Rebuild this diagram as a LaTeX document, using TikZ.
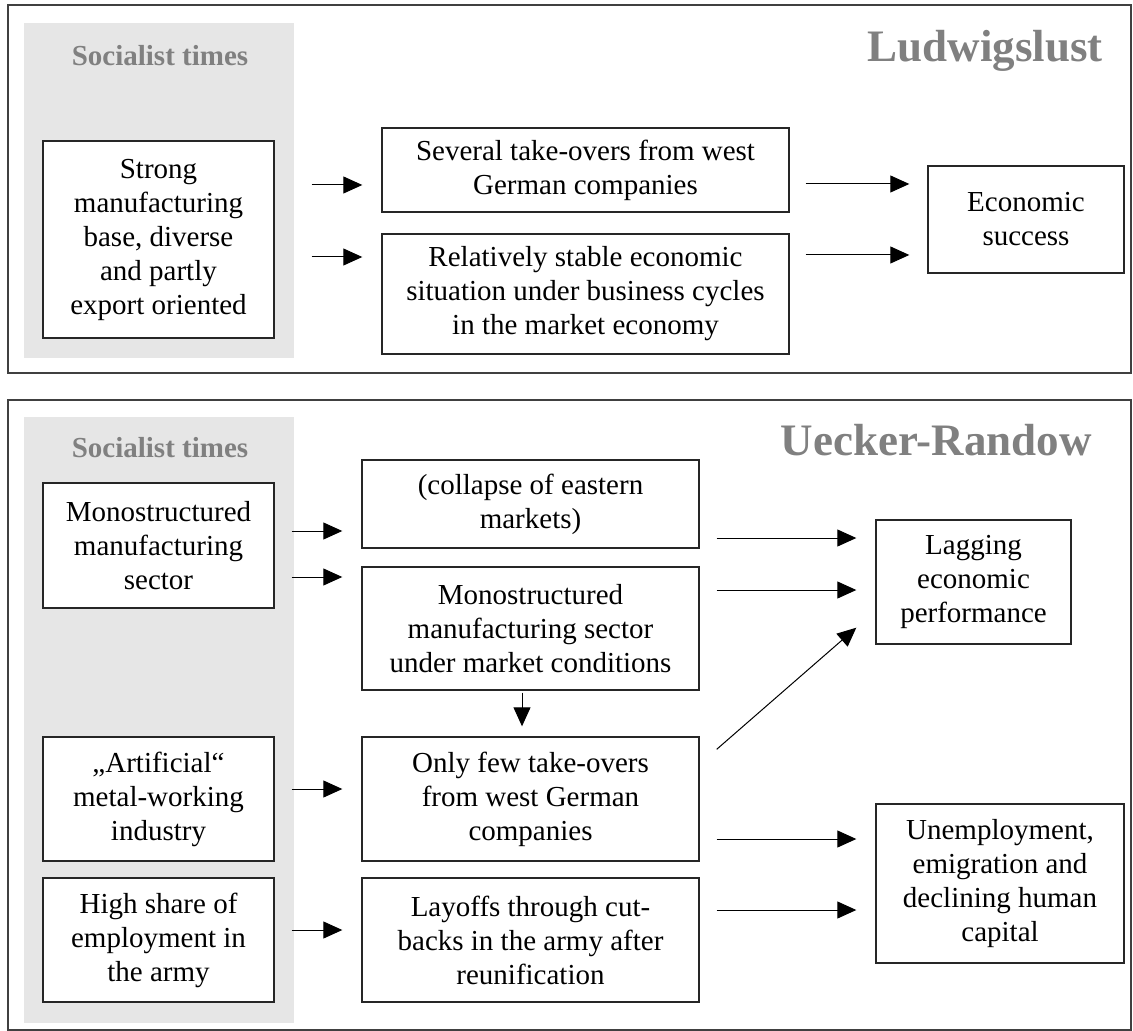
\documentclass[tikz,border=0pt]{standalone}
\usepackage{fontspec}
\setmainfont{Liberation Serif}
\usetikzlibrary{arrows.meta,calc}
\definecolor{panelgray}{HTML}{E6E6E6}
\definecolor{titlegray}{HTML}{808080}
\definecolor{framecol}{HTML}{404040}
\begin{document}
\begin{tikzpicture}[x=0.5pt,y=-0.5pt,
  box/.style={draw=black!85, line width=0.7pt, fill=white, align=center, inner sep=0pt,
              font=\fontsize{14.5pt}{17pt}\selectfont},
  arr/.style={-{Triangle[length=9.5pt,width=8.5pt]}, line width=0.5pt},
  title/.style={font=\fontsize{22.5pt}{27pt}\selectfont\bfseries, text=titlegray, inner sep=0pt},
  era/.style={font=\fontsize{14.5pt}{17pt}\selectfont\bfseries, text=titlegray, inner sep=0pt},
  framebox/.style={draw=framecol, line width=0.8pt},
  panel/.style={fill=panelgray}]

\useasboundingbox (0,0) rectangle (1133,1031);

% ---------------- Ludwigslust ----------------
\draw[framebox] (8,5) rectangle (1131,373);
\fill[panel] (24,23) rectangle (294,358);
\node[era, anchor=base] (era1) at (160,66) {Socialist times};
\node[title, anchor=base east] (t1) at (1103,62) {Ludwigslust};

\node[box, minimum width=115.5pt, minimum height=98.5pt] (strong) at (158.5,239.5)
  {Strong\\manufacturing\\base, diverse\\and partly\\export oriented};
\node[box, minimum width=203.5pt, minimum height=42pt] (several) at (585.5,170)
  {Several take-overs from west\\German companies};
\node[box, minimum width=203.5pt, minimum height=60pt] (relat) at (585.5,294)
  {Relatively stable economic\\situation under business cycles\\in the market economy};
\node[box, minimum width=98pt, minimum height=53.5pt] (econ) at (1026,219.5)
  {Economic\\success};

\coordinate (ya) at (0,185);
\coordinate (yb) at (0,257);
\coordinate (yc) at (0,184);
\coordinate (yd) at (0,255);
\draw[arr, shorten <=18.5pt, shorten >=9.5pt] (strong.east |- ya) -- (several.west |- ya);
\draw[arr, shorten <=18.5pt, shorten >=9.5pt] (strong.east |- yb) -- (relat.west |- yb);
\draw[arr, shorten <=8pt, shorten >=9pt] (several.east |- yc) -- (econ.west |- yc);
\draw[arr, shorten <=8pt, shorten >=9pt] (relat.east |- yd) -- (econ.west |- yd);

% ---------------- Uecker-Randow ----------------
\draw[framebox] (8,400) rectangle (1131,1030);
\fill[panel] (24,417) rectangle (294,1023);
\node[era, anchor=base] (era2) at (160,458) {Socialist times};
\node[title, anchor=base east] (t2) at (1092,455) {Uecker-Randow};

\node[box, minimum width=115.5pt, minimum height=62.5pt] (monoL) at (158.5,545.5)
  {Monostructured\\manufacturing\\sector};
\node[box, minimum width=115.5pt, minimum height=62pt] (artif) at (158.5,799)
  {„Artificial“\\metal-working\\industry};
\node[box, minimum width=115.5pt, minimum height=62pt] (high) at (158.5,940)
  {High share of\\employment in\\the army};

\node[box, minimum width=168.5pt, minimum height=44pt] (collapse) at (530.5,504)
  {(collapse of eastern\\markets)};
\node[box, minimum width=168.5pt, minimum height=61.5pt] (monoM) at (530.5,628.5)
  {Monostructured\\manufacturing sector\\under market conditions};
\node[box, minimum width=168.5pt, minimum height=62pt] (few) at (530.5,799)
  {Only few take-overs\\from west German\\companies};
\node[box, minimum width=168.5pt, minimum height=62pt] (layoff) at (530.5,940)
  {Layoffs through cut-\\backs in the army after\\reunification};

\node[box, minimum width=97.5pt, minimum height=62pt] (lag) at (973.5,582)
  {Lagging\\economic\\performance};
\node[box, minimum width=124pt, minimum height=79.5pt] (unemp) at (1000,883.5)
  {Unemployment,\\emigration and\\declining human\\capital};

\coordinate (y1) at (0,531);
\coordinate (y2) at (0,577);
\coordinate (y3) at (0,789);
\coordinate (y4) at (0,930);
\draw[arr, shorten <=8.5pt, shorten >=9.5pt] (monoL.east |- y1) -- (collapse.west |- y1);
\draw[arr, shorten <=8.5pt, shorten >=9.5pt] (monoL.east |- y2) -- (monoM.west |- y2);
\draw[arr, shorten <=8.5pt, shorten >=9.5pt] (artif.east |- y3) -- (few.west |- y3);
\draw[arr, shorten <=8.5pt, shorten >=9.5pt] (high.east |- y4) -- (layoff.west |- y4);

\coordinate (xd) at (522,0);
\draw[arr, shorten <=1pt, shorten >=5pt] (monoM.south -| xd) -- (few.north -| xd);

\coordinate (y5) at (0,538);
\coordinate (y6) at (0,590);
\coordinate (y7) at (0,839);
\coordinate (y8) at (0,910);
\draw[arr, shorten <=8.5pt, shorten >=9.5pt] (collapse.east |- y5) -- (lag.west |- y5);
\draw[arr, shorten <=8.5pt, shorten >=9.5pt] (monoM.east |- y6) -- (lag.west |- y6);
\draw[arr] ([shift={(8.5pt,-6.5pt)}]few.north east) -- ([shift={(-9.5pt,8.5pt)}]lag.south west);
\draw[arr, shorten <=8.5pt, shorten >=9.5pt] (few.east |- y7) -- (unemp.west |- y7);
\draw[arr, shorten <=8.5pt, shorten >=9.5pt] (layoff.east |- y8) -- (unemp.west |- y8);
\end{tikzpicture}
\end{document}
